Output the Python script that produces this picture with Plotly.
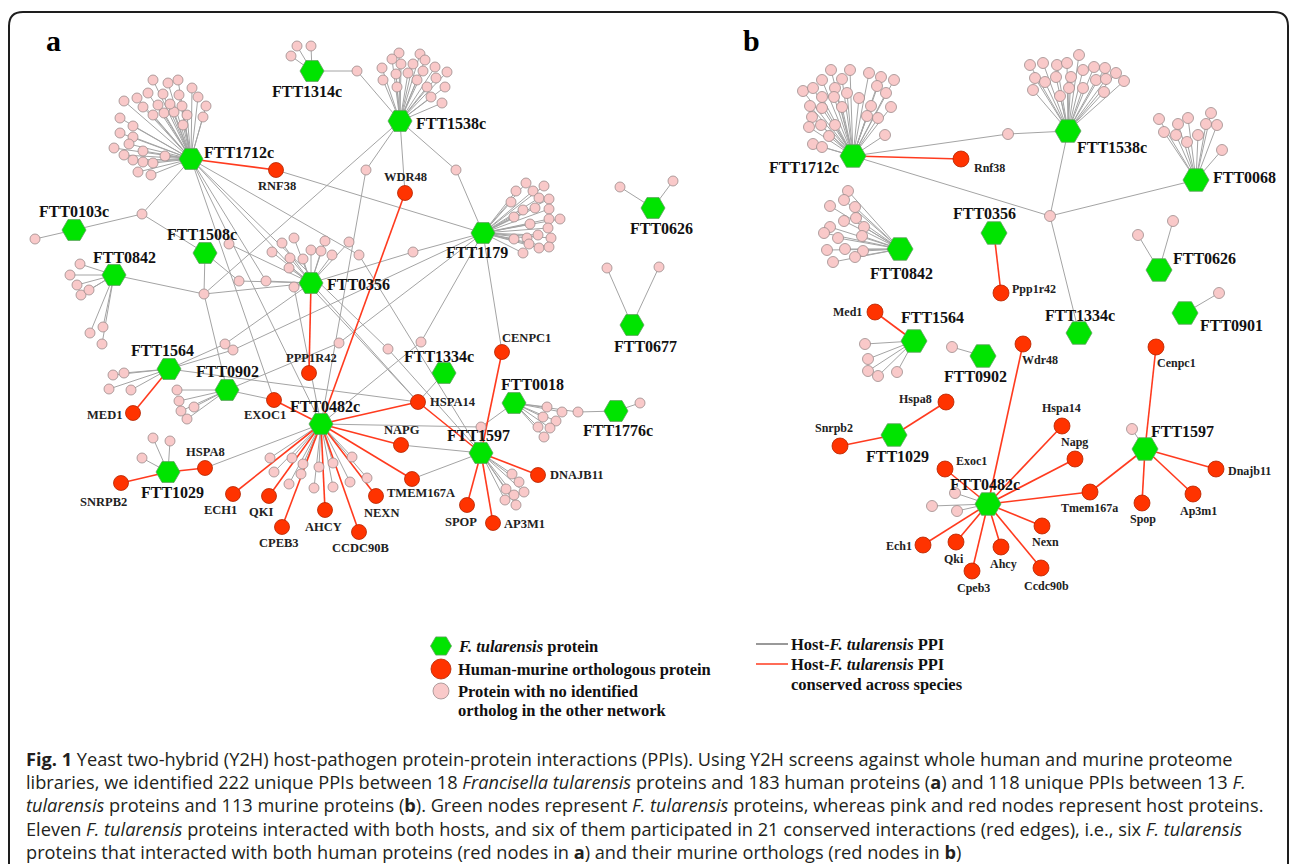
import plotly.graph_objects as go

# ---------------- Network a: F. tularensis x human ----------------
a_hub_names = ["FTT1712c", "FTT1314c", "FTT1538c", "FTT0103c", "FTT1508c", "FTT0842", "FTT0356",
               "FTT1179", "FTT0626", "FTT0677", "FTT1564", "FTT0902", "FTT0482c", "FTT1334c",
               "FTT0018", "FTT1776c", "FTT1597", "FTT1029"]
a_hub_x = [191, 312, 400, 74, 205, 114, 311, 483, 653, 632, 169, 227, 321, 444, 514, 616, 481, 168]
a_hub_y = [159, 71, 121, 230, 253, 275, 283, 233, 208, 325, 369, 390, 424, 373, 403, 411, 453, 472]

a_host_names = ["RNF38", "WDR48", "PPP1R42", "EXOC1", "HSPA14", "CENPC1", "NAPG", "MED1", "HSPA8",
                "SNRPB2", "ECH1", "QKI", "CPEB3", "AHCY", "CCDC90B", "NEXN", "TMEM167A", "SPOP",
                "AP3M1", "DNAJB11"]
a_host_x = [276, 405, 309, 274, 418, 502, 401, 133, 205, 121, 233, 269, 282, 325, 359, 376, 412, 467, 493, 538]
a_host_y = [170, 193, 373, 400, 402, 352, 445, 413, 468, 483, 494, 496, 527, 510, 532, 496, 479, 505, 523, 475]

# host proteins seen by a single pathogen protein
a_single = {
    "FTT1712c": [(153, 80), (168, 83), (178, 80), (192, 88), (124, 101), (137, 98), (148, 93), (163, 94),
                 (179, 95), (198, 97), (206, 106), (120, 118), (133, 126), (143, 107), (153, 115), (164, 113),
                 (174, 112), (187, 115), (203, 117), (183, 125), (120, 133), (133, 137), (114, 148), (124, 155),
                 (133, 160), (143, 162), (153, 163), (165, 156), (143, 151), (138, 172), (151, 175), (158, 105),
                 (170, 104), (182, 106), (129, 144)],
    "FTT1314c": [(297, 46), (311, 46), (291, 56)],
    "FTT1538c": [(399, 53), (420, 54), (392, 59), (401, 64), (413, 64), (425, 60), (435, 67), (447, 72),
                 (382, 68), (396, 74), (408, 73), (423, 71), (436, 78), (445, 87), (383, 80), (397, 87),
                 (417, 80), (431, 97), (442, 103), (427, 87)],
    "FTT0103c": [(35, 239)],
    "FTT0842": [(80, 264), (70, 275), (77, 285), (81, 295), (89, 290), (90, 333), (103, 327), (102, 344)],
    "FTT0356": [(282, 243), (294, 238), (272, 252), (290, 258), (303, 259), (311, 250), (321, 251),
                (332, 255), (325, 241), (289, 268), (349, 242), (229, 244)],
    "FTT1179": [(526, 183), (544, 186), (516, 191), (533, 191), (539, 198), (549, 199), (511, 202),
                (523, 210), (535, 208), (549, 209), (514, 217), (530, 224), (549, 219), (560, 219),
                (548, 228), (514, 239), (527, 238), (538, 235), (551, 238), (529, 244), (539, 248),
                (549, 247), (523, 253)],
    "FTT0626": [(620, 187), (673, 181)],
    "FTT0677": [(607, 268), (659, 267)],
    "FTT1564": [(113, 375), (124, 373), (109, 389), (131, 390)],
    "FTT0902": [(177, 390), (179, 401), (181, 411), (187, 419), (194, 407)],
    "FTT0482c": [(270, 458), (274, 472), (292, 458), (303, 464), (301, 474), (289, 484), (319, 467),
                 (333, 463), (314, 488), (333, 487), (350, 482), (352, 457), (367, 478)],
    "FTT0018": [(547, 407), (562, 412), (543, 417), (556, 421), (538, 427), (550, 428), (544, 437)],
    "FTT1776c": [(640, 403)],
    "FTT1597": [(512, 474), (519, 482), (506, 489), (524, 492), (514, 495), (505, 500), (516, 505)],
    "FTT1029": [(153, 438), (170, 441), (142, 458)],
}

# host proteins bridging several pathogen proteins
a_shared_x = [142, 357, 366, 456, 204, 239, 266, 294, 413, 359, 225, 233, 339, 388, 421, 481, 578]
a_shared_y = [214, 71, 170, 170, 294, 281, 281, 287, 252, 255, 344, 350, 343, 349, 342, 427, 412]
a_shared_links = [
    ["FTT1712c", "FTT0103c", "FTT1508c"],
    ["FTT1314c", "FTT1538c"],
    ["FTT1538c", "FTT0482c"],
    ["FTT1538c", "FTT1179"],
    ["FTT1538c", "FTT0842", "FTT1508c", "FTT0356", "FTT0902"],
    ["FTT1508c", "FTT0356"],
    ["FTT0356", "FTT1712c"],
    ["FTT0356", "FTT0482c"],
    ["FTT0356", "FTT1179"],
    ["FTT1712c", "FTT1597"],
    ["FTT0356", "FTT1564"],
    ["FTT1179", "FTT1564"],
    ["FTT0902", "FTT1179"],
    ["FTT1712c", "FTT1597"],
    ["FTT1179", "FTT0482c"],
    ["FTT0482c", "FTT0018", "FTT1597"],
    ["FTT0018", "FTT1776c"],
]

a_gray_edges = [("RNF38", "FTT1179"), ("WDR48", "FTT1538c"), ("FTT1564", "HSPA14"), ("FTT0902", "EXOC1"),
                ("FTT0482c", "HSPA8"), ("NAPG", "FTT1597"), ("TMEM167A", "FTT1597"), ("HSPA14", "FTT1334c"),
                ("CENPC1", "FTT1179"), ("FTT1712c", "EXOC1"), ("FTT1712c", "HSPA14"), ("FTT0356", "HSPA14"),
                ("FTT1712c", "FTT0482c")]
a_red_edges = [("FTT1712c", "RNF38"), ("FTT0356", "PPP1R42"), ("FTT1564", "MED1"), ("FTT1029", "HSPA8"),
               ("FTT1029", "SNRPB2"), ("FTT0482c", "WDR48"), ("FTT0482c", "EXOC1"), ("FTT0482c", "HSPA14"),
               ("FTT0482c", "NAPG"), ("FTT0482c", "TMEM167A"), ("FTT0482c", "ECH1"), ("FTT0482c", "QKI"),
               ("FTT0482c", "CPEB3"), ("FTT0482c", "AHCY"), ("FTT0482c", "NEXN"), ("FTT0482c", "CCDC90B"),
               ("FTT1597", "CENPC1"), ("FTT1597", "HSPA14"), ("FTT1597", "SPOP"), ("FTT1597", "AP3M1"),
               ("FTT1597", "DNAJB11")]

# ---------------- Network b: F. tularensis x murine ----------------
b_hub_names = ["FTT1712c", "FTT1538c", "FTT0068", "FTT0842", "FTT0356", "FTT0626", "FTT0901",
               "FTT1334c", "FTT1564", "FTT0902", "FTT1029", "FTT0482c", "FTT1597"]
b_hub_x = [853, 1068, 1196, 900, 994, 1159, 1185, 1079, 914, 983, 894, 988, 1145]
b_hub_y = [156, 131, 180, 249, 233, 270, 313, 333, 341, 356, 435, 504, 449]

b_host_names = ["Rnf38", "Ppp1r42", "Med1", "Wdr48", "Cenpc1", "Hspa8", "Snrpb2", "Hspa14", "Napg",
                "Exoc1", "Tmem167a", "Dnajb11", "Spop", "Ap3m1", "Ech1", "Qki", "Cpeb3", "Ahcy", "Nexn",
                "Ccdc90b"]
b_host_x = [961, 1001, 875, 1023, 1156, 946, 840, 1062, 1075, 945, 1090, 1216, 1142, 1193, 923, 956, 972, 1001, 1042, 1041]
b_host_y = [159, 293, 312, 344, 347, 402, 446, 426, 459, 469, 492, 469, 503, 494, 545, 542, 571, 547, 526, 568]

b_single = {
    "FTT1712c": [(831, 70), (850, 70), (869, 73), (881, 77), (894, 80), (822, 80), (842, 79), (877, 86),
                 (803, 91), (813, 88), (835, 88), (847, 93), (859, 98), (886, 93), (822, 97), (834, 97),
                 (810, 106), (822, 108), (842, 107), (871, 106), (891, 107), (812, 117), (835, 125),
                 (867, 116), (878, 118), (809, 127), (829, 136), (885, 135), (813, 144), (822, 147), (821, 125)],
    "FTT1538c": [(1030, 65), (1043, 63), (1057, 65), (1067, 63), (1079, 55), (1094, 67), (1105, 68),
                 (1116, 73), (1124, 81), (1035, 78), (1045, 82), (1056, 77), (1071, 77), (1083, 70),
                 (1096, 80), (1106, 79), (1033, 90), (1060, 96), (1069, 88), (1104, 92), (1083, 88)],
    "FTT0068": [(1159, 119), (1178, 124), (1188, 118), (1211, 113), (1164, 132), (1176, 135), (1187, 142),
                (1198, 135), (1206, 124), (1217, 125), (1222, 150)],
    "FTT0842": [(848, 191), (844, 200), (830, 206), (855, 207), (844, 221), (856, 218), (830, 227),
                (864, 227), (824, 233), (838, 238), (862, 236), (827, 250), (845, 249), (863, 251),
                (833, 262), (855, 257)],
    "FTT0626": [(1138, 235), (1173, 221)],
    "FTT0901": [(1219, 293)],
    "FTT1564": [(865, 344), (868, 359), (868, 371), (878, 376), (897, 372)],
    "FTT0902": [(952, 347)],
    "FTT0482c": [(955, 493), (932, 506), (957, 511)],
    "FTT1597": [(1132, 429)],
}

b_shared_x = [1008, 1050]
b_shared_y = [134, 216]
b_shared_links = [["FTT1712c", "FTT1538c"], ["FTT1712c", "FTT1538c", "FTT0068", "FTT1334c"]]

b_gray_edges = []
b_red_edges = [("FTT1712c", "Rnf38"), ("FTT0356", "Ppp1r42"), ("FTT1564", "Med1"), ("FTT1029", "Hspa8"),
               ("FTT1029", "Snrpb2"), ("FTT0482c", "Wdr48"), ("FTT0482c", "Exoc1"), ("FTT0482c", "Hspa14"),
               ("FTT0482c", "Napg"), ("FTT0482c", "Tmem167a"), ("FTT0482c", "Ech1"), ("FTT0482c", "Qki"),
               ("FTT0482c", "Cpeb3"), ("FTT0482c", "Ahcy"), ("FTT0482c", "Nexn"), ("FTT0482c", "Ccdc90b"),
               ("FTT1597", "Cenpc1"), ("FTT1597", "Tmem167a"), ("FTT1597", "Spop"), ("FTT1597", "Ap3m1"),
               ("FTT1597", "Dnajb11")]

# label placement: (dx, dy, anchor)
a_label_place = {
    "FTT1712c": (11, -7, "left"), "FTT1314c": (-5, 20, "center"), "FTT1538c": (14, 2, "left"),
    "FTT0103c": (0, -19, "center"), "FTT1508c": (-3, -19, "center"), "FTT0842": (10, -18, "center"),
    "FTT0356": (14, 1, "left"), "FTT1179": (-6, 19, "center"), "FTT0626": (8, 20, "center"),
    "FTT0677": (13, 21, "center"), "FTT1564": (-7, -19, "center"), "FTT0902": (0, -19, "center"),
    "FTT0482c": (4, -18, "center"), "FTT1334c": (-5, -17, "center"), "FTT0018": (18, -19, "center"),
    "FTT1776c": (2, 19, "center"), "FTT1597": (-3, -18, "center"), "FTT1029": (4, 20, "center"),
    "RNF38": (1, 16, "center"), "WDR48": (0, -16, "center"), "PPP1R42": (2, -15, "center"),
    "EXOC1": (-9, 15, "center"), "HSPA14": (10, 0, "left"), "CENPC1": (24, -14, "center"),
    "NAPG": (1, -15, "center"), "MED1": (-9, 2, "right"), "HSPA8": (0, -16, "center"),
    "SNRPB2": (-18, 19, "center"), "ECH1": (-13, 16, "center"), "QKI": (-8, 16, "center"),
    "CPEB3": (-3, 16, "center"), "AHCY": (-2, 17, "center"), "CCDC90B": (1, 16, "center"),
    "NEXN": (5, 17, "center"), "TMEM167A": (9, 14, "center"), "SPOP": (-6, 17, "center"),
    "AP3M1": (9, 1, "left"), "DNAJB11": (10, 0, "left"),
}
b_label_place = {
    "FTT1712c": (-12, 11, "right"), "FTT1538c": (7, 16, "left"), "FTT0068": (15, -3, "left"),
    "FTT0842": (1, 24, "center"), "FTT0356": (-10, -20, "center"), "FTT0626": (12, -12, "left"),
    "FTT0901": (13, 12, "left"), "FTT1334c": (1, -18, "center"), "FTT1564": (18, -24, "center"),
    "FTT0902": (-8, 20, "center"), "FTT1029": (3, 21, "center"), "FTT0482c": (-3, -20, "center"),
    "FTT1597": (4, -18, "left"),
    "Rnf38": (11, 9, "left"), "Ppp1r42": (9, -4, "left"), "Med1": (-11, 0, "right"),
    "Wdr48": (17, 16, "center"), "Cenpc1": (20, 16, "center"), "Hspa8": (-12, -3, "right"),
    "Snrpb2": (-6, -18, "center"), "Hspa14": (-1, -18, "center"), "Napg": (-1, -17, "center"),
    "Exoc1": (9, -8, "left"), "Tmem167a": (-1, 16, "center"), "Dnajb11": (10, 2, "left"),
    "Spop": (1, 16, "center"), "Ap3m1": (5, 17, "center"), "Ech1": (-9, 1, "right"),
    "Qki": (-2, 17, "center"), "Cpeb3": (1, 17, "center"), "Ahcy": (2, 17, "center"),
    "Nexn": (3, 16, "center"), "Ccdc90b": (5, 18, "center"),
}

caption_lines = [
    "<b>Fig. 1</b> Yeast two-hybrid (Y2H) host-pathogen protein-protein interactions (PPIs). Using Y2H screens against whole human and murine proteome",
    "libraries, we identified 222 unique PPIs between 18 <i>Francisella tularensis</i> proteins and 183 human proteins (<b>a</b>) and 118 unique PPIs between 13 <i>F.</i>",
    "<i>tularensis</i> proteins and 113 murine proteins (<b>b</b>). Green nodes represent <i>F. tularensis</i> proteins, whereas pink and red nodes represent host proteins.",
    "Eleven <i>F. tularensis</i> proteins interacted with both hosts, and six of them participated in 21 conserved interactions (red edges), i.e., six <i>F. tularensis</i>",
    "proteins that interacted with both human proteins (red nodes in <b>a</b>) and their murine orthologs (red nodes in <b>b</b>)",
]

# ---------------- styling ----------------
GREEN = "#00e400"
RED = "#ff3300"
PINK = "#f9c9c9"
GRAY_EDGE = "#a4a4a4"
RED_EDGE = "#ff3b1f"
SERIF = "Liberation Serif, Times New Roman, serif"
CAPTION_FONT = "Open Sans, sans-serif"

fig = go.Figure()
annotations = []


def add_network(hub_names, hub_x, hub_y, host_names, host_x, host_y, single, shared_x, shared_y,
                shared_links, gray_edges, red_edges, label_place, hub_size, host_size, pink_size,
                host_font_size):
    pos = {n: (x, y) for n, x, y in zip(hub_names, hub_x, hub_y)}
    pos.update({n: (x, y) for n, x, y in zip(host_names, host_x, host_y)})

    gx, gy = [], []

    def seg(xs, ys, p, q):
        xs += [p[0], q[0], None]
        ys += [p[1], q[1], None]

    for hub, pts in single.items():
        for pt in pts:
            seg(gx, gy, pos[hub], pt)
    for sx, sy, links in zip(shared_x, shared_y, shared_links):
        for n in links:
            seg(gx, gy, pos[n], (sx, sy))
    for p, q in gray_edges:
        seg(gx, gy, pos[p], pos[q])
    rx, ry = [], []
    for p, q in red_edges:
        seg(rx, ry, pos[p], pos[q])

    fig.add_trace(go.Scatter(x=gx, y=gy, mode="lines", line=dict(color=GRAY_EDGE, width=1),
                             hoverinfo="skip", showlegend=False))
    fig.add_trace(go.Scatter(x=rx, y=ry, mode="lines", line=dict(color=RED_EDGE, width=1.6),
                             hoverinfo="skip", showlegend=False))

    px = [pt[0] for pts in single.values() for pt in pts] + list(shared_x)
    py = [pt[1] for pts in single.values() for pt in pts] + list(shared_y)
    fig.add_trace(go.Scatter(x=px, y=py, mode="markers",
                             marker=dict(size=pink_size, color=PINK, line=dict(color="#9c8c8c", width=0.8)),
                             hoverinfo="skip", showlegend=False))
    fig.add_trace(go.Scatter(x=host_x, y=host_y, mode="markers", text=host_names, hoverinfo="text",
                             marker=dict(size=host_size, color=RED, line=dict(color="#b32400", width=0.8)),
                             showlegend=False))
    fig.add_trace(go.Scatter(x=hub_x, y=hub_y, mode="markers", text=hub_names, hoverinfo="text",
                             marker=dict(size=hub_size, symbol="hexagon2", color=GREEN,
                                         line=dict(color="#5f9f5f", width=0.8)),
                             showlegend=False))

    for n in hub_names:
        dx, dy, anc = label_place[n]
        annotations.append(dict(x=pos[n][0] + dx, y=pos[n][1] + dy, text=n, showarrow=False,
                                xanchor=anc, yanchor="middle",
                                font=dict(family=SERIF, size=16, color="#111111", weight="bold")))
    for n in host_names:
        dx, dy, anc = label_place[n]
        annotations.append(dict(x=pos[n][0] + dx, y=pos[n][1] + dy, text=n, showarrow=False,
                                xanchor=anc, yanchor="middle",
                                font=dict(family=SERIF, size=host_font_size, color="#222222", weight="bold")))


add_network(a_hub_names, a_hub_x, a_hub_y, a_host_names, a_host_x, a_host_y, a_single, a_shared_x,
            a_shared_y, a_shared_links, a_gray_edges, a_red_edges, a_label_place, 24, 15, 10, 12.5)
add_network(b_hub_names, b_hub_x, b_hub_y, b_host_names, b_host_x, b_host_y, b_single, b_shared_x,
            b_shared_y, b_shared_links, b_gray_edges, b_red_edges, b_label_place, 26, 16, 11, 12)

# panel letters
for letter, lx in (("a", 53), ("b", 751)):
    annotations.append(dict(x=lx, y=40, text=letter, showarrow=False, xanchor="center", yanchor="middle",
                            font=dict(family=SERIF, size=30, color="#000000", weight="bold")))

# key
fig.add_trace(go.Scatter(x=[441], y=[646], mode="markers", hoverinfo="skip", showlegend=False,
                         marker=dict(size=21, symbol="hexagon2", color=GREEN, line=dict(color="#5f9f5f", width=0.8))))
fig.add_trace(go.Scatter(x=[441], y=[669], mode="markers", hoverinfo="skip", showlegend=False,
                         marker=dict(size=20, color=RED, line=dict(color="#b32400", width=0.8))))
fig.add_trace(go.Scatter(x=[441], y=[691], mode="markers", hoverinfo="skip", showlegend=False,
                         marker=dict(size=16, color=PINK, line=dict(color="#9c8c8c", width=0.8))))
shapes = [
    dict(type="line", x0=756, x1=788, y0=644, y1=644, line=dict(color="#777777", width=1.5)),
    dict(type="line", x0=756, x1=788, y0=664, y1=664, line=dict(color=RED_EDGE, width=1.5)),
    dict(type="path", path="M 9,870 L 9,26 Q 9,12 23,12 L 1274,12 Q 1288,12 1288,26 L 1288,870",
         line=dict(color="#1e1e1e", width=2)),
]
key_font = dict(family=SERIF, size=16.5, color="#111111", weight="bold")
key_texts = [
    (456, 646, "<i>F. tularensis</i> protein"),
    (456, 669, "Human-murine orthologous protein"),
    (456, 691, "Protein with no identified"),
    (456, 710, "ortholog in the other network"),
    (789, 644, "Host-<i>F. tularensis</i> PPI"),
    (789, 664, "Host-<i>F. tularensis</i> PPI"),
    (789, 684, "conserved across species"),
]
for tx, ty, t in key_texts:
    annotations.append(dict(x=tx, y=ty, text=t, showarrow=False, xanchor="left", yanchor="middle", font=key_font))

# caption
for i, line in enumerate(caption_lines):
    annotations.append(dict(x=24, y=759 + i * 23.2, text=line, showarrow=False, xanchor="left", yanchor="middle",
                            font=dict(family=CAPTION_FONT, size=18.2, color="#231f20")))

fig.update_layout(
    width=1290, height=864, margin=dict(l=0, r=0, t=0, b=0),
    paper_bgcolor="white", plot_bgcolor="white",
    xaxis=dict(range=[0, 1290], visible=False, fixedrange=True),
    yaxis=dict(range=[864, 0], visible=False, fixedrange=True),
    annotations=annotations, shapes=shapes, showlegend=False,
)
fig.write_html("out.html")
